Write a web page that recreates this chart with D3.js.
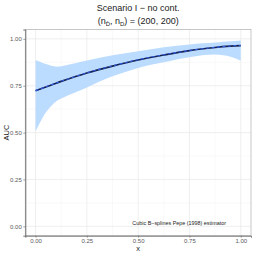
<!DOCTYPE html>
<html>
<head>
<meta charset="utf-8">
<script src="https://cdn.jsdelivr.net/npm/d3@7"></script>
<style>
  body { margin: 0; background: #fff; }
  text { font-family: "Liberation Sans", Arial, sans-serif; }
</style>
</head>
<body>
<div id="chart"></div>
<script>
// points along x
const xs = [0, 0.05, 0.1, 0.125, 0.25, 0.375, 0.5, 0.625, 0.75, 0.875, 0.95, 1]
const trueAuc = [0.723, 0.743, 0.763, 0.773, 0.818, 0.855, 0.8875, 0.914, 0.9375, 0.954, 0.961, 0.964]
const estAuc = [0.724, 0.744, 0.764, 0.774, 0.819, 0.856, 0.889, 0.915, 0.938, 0.955, 0.962, 0.965]
const upper = [0.8875, 0.866, 0.852, 0.854, 0.884, 0.9125, 0.934, 0.955, 0.970, 0.980, 0.987, 0.991]
const lower = [0.505, 0.607, 0.666, 0.682, 0.741, 0.800, 0.845, 0.875, 0.902, 0.916, 0.905, 0.884]
const tickVals = [0, 0.25, 0.5, 0.75, 1]
const minorVals = [0.125, 0.375, 0.625, 0.875]

const W = 254, H = 254
const margin = {top: 29.5, right: 3, bottom: 18.3, left: 25.3},
	width = W - margin.left - margin.right,
	height = H - margin.top - margin.bottom

const svg = d3.select("#chart")
	.append("svg")
		.attr("width", W)
		.attr("height", H)

const g = svg.append("g")
	.attr("transform", `translate(${margin.left}, ${margin.top})`)

// ggplot style 5% expansion
const x = d3.scaleLinear().domain([-0.05, 1.05]).range([0, width])
const y = d3.scaleLinear().domain([-0.05, 1.05]).range([height, 0])

// grid
g.selectAll(".minx").data(minorVals).join("line")
	.attr("x1", d => x(d)).attr("x2", d => x(d)).attr("y1", 0).attr("y2", height)
	.attr("stroke", "#f3f3f3").attr("stroke-width", 0.5)
g.selectAll(".miny").data(minorVals).join("line")
	.attr("y1", d => y(d)).attr("y2", d => y(d)).attr("x1", 0).attr("x2", width)
	.attr("stroke", "#f3f3f3").attr("stroke-width", 0.5)
g.selectAll(".majx").data(tickVals).join("line")
	.attr("x1", d => x(d)).attr("x2", d => x(d)).attr("y1", 0).attr("y2", height)
	.attr("stroke", "#e8e8e8").attr("stroke-width", 0.7)
g.selectAll(".majy").data(tickVals).join("line")
	.attr("y1", d => y(d)).attr("y2", d => y(d)).attr("x1", 0).attr("x2", width)
	.attr("stroke", "#e8e8e8").attr("stroke-width", 0.7)

const pts = xs.map((v, i) => ({x: v, t: trueAuc[i], e: estAuc[i], lo: lower[i], hi: upper[i]}))

// confidence band
g.append("path")
	.datum(pts)
	.attr("fill", "#bcdcff")
	.attr("d", d3.area()
		.x(d => x(d.x))
		.y0(d => y(d.lo))
		.y1(d => y(d.hi))
		.curve(d3.curveCatmullRom))

g.append("path")
	.datum(pts)
	.attr("fill", "none")
	.attr("stroke", "#15204f")
	.attr("stroke-width", 1.7)
	.attr("d", d3.line().x(d => x(d.x)).y(d => y(d.t)).curve(d3.curveCatmullRom))

g.append("path")
	.datum(pts)
	.attr("fill", "none")
	.attr("stroke", "#2f5ee6")
	.attr("stroke-width", 1.1)
	.attr("stroke-dasharray", "3,2.5")
	.attr("d", d3.line().x(d => x(d.x)).y(d => y(d.e)).curve(d3.curveCatmullRom))

// panel border
g.append("rect")
	.attr("width", width).attr("height", height)
	.attr("fill", "none").attr("stroke", "#b8b8b8").attr("stroke-width", 0.8)

// axes
const xAxis = g.append("g")
	.attr("transform", `translate(0, ${height})`)
	.call(d3.axisBottom(x).tickValues(tickVals).tickFormat(d3.format(".2f")).tickSize(2).tickPadding(1.5))
const yAxis = g.append("g")
	.call(d3.axisLeft(y).tickValues(tickVals).tickFormat(d3.format(".2f")).tickSize(2).tickPadding(1.5))

for (const ax of [xAxis, yAxis]) {
	ax.select(".domain").attr("stroke", "#666").attr("stroke-width", 0.9)
	ax.selectAll(".tick line").attr("stroke", "#666").attr("stroke-width", 0.6)
	ax.selectAll(".tick text").attr("fill", "#5a5a5a").attr("font-size", 6)
		.attr("font-family", "Liberation Sans, Arial, sans-serif")
}

// annotation
g.append("text")
	.attr("x", x(0.7)).attr("y", y(0.015))
	.attr("text-anchor", "middle").attr("dominant-baseline", "middle")
	.attr("font-size", 5.4).attr("fill", "#222")
	.text("Cubic B\u2212splines Pepe (1998) estimator")

// axis titles
svg.append("text")
	.attr("x", margin.left + width / 2).attr("y", 250.5)
	.attr("text-anchor", "middle").attr("font-size", 7.5).attr("fill", "#222")
	.text("x")
svg.append("text")
	.attr("transform", `translate(8.5, ${margin.top + height / 2}) rotate(-90)`)
	.attr("text-anchor", "middle").attr("font-size", 7.5).attr("fill", "#222")
	.text("AUC")

// title and subtitle
const cx = margin.left + width / 2
svg.append("text")
	.attr("x", cx).attr("y", 11)
	.attr("text-anchor", "middle").attr("font-size", 9).attr("fill", "#222")
	.text("Scenario I \u2212 no cont.")

const sub = svg.append("text")
	.attr("x", cx).attr("y", 23.5)
	.attr("text-anchor", "middle").attr("font-size", 9).attr("fill", "#222")
sub.append("tspan").text("(n")
sub.append("tspan").attr("font-size", 6).attr("dy", 2).text("D\u0304")
sub.append("tspan").attr("dy", -2).text(", n")
sub.append("tspan").attr("font-size", 6).attr("dy", 2).text("D")
sub.append("tspan").attr("dy", -2).text(") = (200, 200)")
</script>
</body>
</html>
